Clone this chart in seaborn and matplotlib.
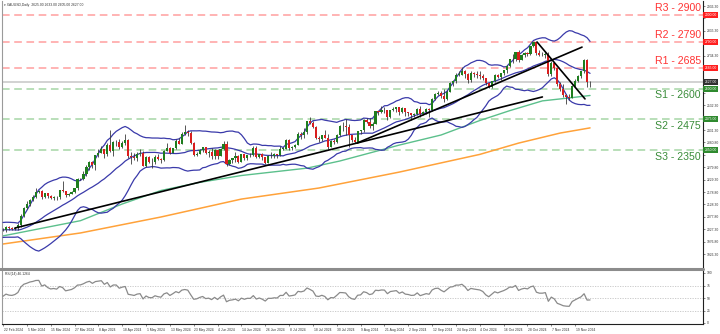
import numpy as np
import pandas as pd
import matplotlib
matplotlib.use("Agg")
import matplotlib.pyplot as plt
import matplotlib.transforms as mtrans
from matplotlib.lines import Line2D
import seaborn as sns

sns.set_theme(style="white")
plt.rcParams['font.family'] = ['Liberation Sans', 'DejaVu Sans']

# ---------------- data ----------------
pre_closes = [2053, 2067, 2077, 2065, 2063, 2058, 2042, 2043, 2045, 2027, 2030, 2024, 2029, 2049,
              2055, 2028, 2006, 2023, 2029, 2021, 2029, 2014, 2021, 2018, 2033, 2037, 2039, 2054,
              2039, 2025, 2035, 2035, 2034, 2024, 2020, 1992, 1992, 2004, 2013, 2017, 2025, 2026]

opens = [2026, 2024, 2035, 2031, 2030, 2034, 2044, 2083, 2114, 2128,
         2148, 2159, 2179, 2182, 2158, 2175, 2162, 2155, 2160, 2157,
         2186, 2181, 2165, 2172, 2178, 2195, 2230, 2233, 2251, 2280,
         2300, 2290, 2329, 2339, 2352, 2333, 2372, 2344, 2383, 2383,
         2361, 2379, 2391, 2327, 2322, 2316, 2332, 2337, 2286, 2320,
         2303, 2301, 2323, 2314, 2309, 2346, 2360, 2336, 2358, 2386,
         2376, 2415, 2425, 2420, 2379, 2329, 2334, 2350, 2361, 2338,
         2343, 2327, 2350, 2327, 2355, 2376, 2294, 2311, 2316, 2324,
         2303, 2333, 2319, 2330, 2329, 2360, 2322, 2334, 2320, 2298,
         2327, 2326, 2332, 2330, 2356, 2356, 2392, 2359, 2364, 2371,
         2415, 2411, 2422, 2469, 2458, 2445, 2400, 2396, 2409, 2398,
         2364, 2387, 2384, 2411, 2447, 2446, 2443, 2410, 2390, 2383,
         2427, 2431, 2472, 2465, 2447, 2456, 2507, 2504, 2513, 2512,
         2484, 2512, 2518, 2524, 2504, 2520, 2503, 2500, 2493, 2495,
         2517, 2497, 2506, 2516, 2512, 2558, 2578, 2582, 2569, 2559,
         2587, 2622, 2629, 2657, 2657, 2672, 2658, 2634, 2663, 2659,
         2656, 2653, 2644, 2622, 2608, 2631, 2657, 2649, 2662, 2674,
         2692, 2721, 2720, 2748, 2716, 2736, 2747, 2743, 2774, 2788,
         2744, 2736, 2736, 2742, 2659, 2706, 2684, 2618, 2598, 2573,
         2565, 2562, 2612, 2631, 2651, 2670, 2715, 2625]

highs = [2034, 2041, 2041, 2037, 2038, 2052, 2088, 2119, 2141, 2152,
         2165, 2195, 2189, 2185, 2176, 2175, 2165, 2163, 2163, 2188,
         2223, 2183, 2176, 2183, 2196, 2235, 2236, 2265, 2288, 2305,
         2305, 2331, 2354, 2365, 2354, 2378, 2431, 2385, 2392, 2395,
         2385, 2417, 2396, 2341, 2338, 2340, 2352, 2346, 2326, 2327,
         2319, 2331, 2332, 2318, 2350, 2378, 2364, 2360, 2393, 2398,
         2422, 2450, 2430, 2426, 2384, 2340, 2352, 2364, 2363, 2351,
         2360, 2354, 2353, 2360, 2388, 2388, 2313, 2318, 2342, 2328,
         2333, 2334, 2331, 2336, 2365, 2368, 2335, 2336, 2322, 2331,
         2340, 2339, 2335, 2365, 2364, 2393, 2393, 2367, 2376, 2425,
         2425, 2440, 2469, 2483, 2470, 2448, 2408, 2413, 2431, 2416,
         2390, 2393, 2415, 2451, 2462, 2477, 2456, 2413, 2402, 2429,
         2433, 2475, 2479, 2479, 2463, 2509, 2510, 2531, 2525, 2513,
         2513, 2527, 2527, 2525, 2524, 2523, 2505, 2502, 2502, 2523,
         2529, 2507, 2519, 2520, 2560, 2582, 2590, 2589, 2600, 2595,
         2625, 2634, 2664, 2670, 2686, 2675, 2665, 2673, 2666, 2670,
         2671, 2660, 2645, 2624, 2633, 2660, 2660, 2665, 2675, 2696,
         2722, 2740, 2749, 2758, 2741, 2748, 2749, 2774, 2790, 2790,
         2759, 2749, 2750, 2750, 2711, 2709, 2685, 2625, 2618, 2576,
         2577, 2615, 2639, 2656, 2673, 2721, 2721, 2633]

lows = [2020, 2017, 2025, 2025, 2024, 2026, 2038, 2079, 2111, 2123,
        2141, 2155, 2176, 2150, 2155, 2154, 2150, 2146, 2146, 2151,
        2180, 2158, 2163, 2169, 2174, 2188, 2228, 2228, 2246, 2268,
        2278, 2268, 2320, 2337, 2319, 2326, 2342, 2325, 2365, 2355,
        2358, 2370, 2318, 2292, 2311, 2305, 2325, 2285, 2280, 2297,
        2277, 2291, 2308, 2297, 2306, 2345, 2333, 2336, 2355, 2373,
        2376, 2412, 2406, 2374, 2326, 2325, 2333, 2341, 2334, 2323,
        2315, 2314, 2315, 2325, 2350, 2286, 2287, 2297, 2301, 2295,
        2301, 2310, 2310, 2320, 2327, 2316, 2319, 2310, 2294, 2297,
        2318, 2318, 2316, 2327, 2350, 2353, 2351, 2350, 2358, 2369,
        2395, 2400, 2416, 2455, 2441, 2393, 2384, 2386, 2397, 2353,
        2364, 2376, 2380, 2407, 2428, 2410, 2364, 2383, 2379, 2381,
        2416, 2425, 2460, 2441, 2431, 2455, 2491, 2499, 2502, 2471,
        2480, 2507, 2506, 2493, 2499, 2490, 2489, 2472, 2485, 2491,
        2485, 2493, 2497, 2485, 2508, 2553, 2574, 2563, 2546, 2555,
        2585, 2612, 2624, 2651, 2655, 2644, 2624, 2625, 2647, 2643,
        2641, 2637, 2614, 2604, 2603, 2628, 2643, 2637, 2656, 2665,
        2690, 2704, 2714, 2708, 2715, 2729, 2732, 2737, 2770, 2735,
        2733, 2731, 2726, 2652, 2653, 2677, 2610, 2590, 2566, 2537,
        2555, 2560, 2605, 2626, 2645, 2664, 2605, 2605]

closes = [2024, 2035, 2031, 2030, 2034, 2044, 2083, 2114, 2128, 2148,
          2159, 2179, 2182, 2158, 2175, 2162, 2155, 2160, 2157, 2186,
          2181, 2165, 2172, 2178, 2195, 2230, 2233, 2251, 2280, 2300,
          2290, 2329, 2339, 2352, 2333, 2372, 2344, 2383, 2383, 2361,
          2379, 2391, 2327, 2322, 2316, 2332, 2337, 2286, 2320, 2303,
          2301, 2323, 2314, 2309, 2346, 2360, 2336, 2358, 2386, 2376,
          2415, 2425, 2420, 2379, 2329, 2334, 2350, 2361, 2338, 2343,
          2327, 2350, 2327, 2355, 2376, 2294, 2311, 2316, 2324, 2303,
          2333, 2319, 2330, 2329, 2360, 2322, 2334, 2320, 2298, 2327,
          2326, 2332, 2330, 2356, 2356, 2392, 2359, 2364, 2371, 2415,
          2411, 2422, 2469, 2458, 2445, 2400, 2396, 2409, 2398, 2364,
          2387, 2384, 2411, 2447, 2446, 2443, 2410, 2390, 2383, 2427,
          2431, 2472, 2465, 2447, 2456, 2507, 2504, 2513, 2512, 2484,
          2512, 2518, 2524, 2504, 2520, 2503, 2500, 2493, 2495, 2517,
          2497, 2506, 2516, 2512, 2558, 2578, 2582, 2569, 2559, 2587,
          2622, 2629, 2657, 2657, 2672, 2658, 2634, 2663, 2659, 2656,
          2653, 2644, 2622, 2608, 2631, 2657, 2649, 2662, 2674, 2692,
          2721, 2720, 2748, 2716, 2736, 2747, 2743, 2774, 2788, 2744,
          2736, 2736, 2742, 2659, 2706, 2684, 2618, 2598, 2573, 2565,
          2562, 2612, 2631, 2651, 2670, 2715, 2625, 2627]

date_labels = ["22 Feb 2024", "5 Mar 2024", "15 Mar 2024", "27 Mar 2024", "8 Apr 2024",
               "18 Apr 2024", "1 May 2024", "13 May 2024", "23 May 2024", "4 Jun 2024",
               "14 Jun 2024", "26 Jun 2024", "8 Jul 2024", "18 Jul 2024", "30 Jul 2024",
               "9 Aug 2024", "21 Aug 2024", "2 Sep 2024", "12 Sep 2024", "24 Sep 2024",
               "4 Oct 2024", "16 Oct 2024", "28 Oct 2024", "7 Nov 2024", "19 Nov 2024"]

# moving averages (bar index, price)
ma100_idx = [0, 26, 40, 53, 66, 80, 102, 113, 133, 147, 160, 170, 181, 190, 197]
ma100_val = [2000, 2062, 2130, 2185, 2218, 2246, 2276, 2305, 2370, 2411, 2470, 2510, 2550, 2562, 2572]
ma200_idx = [0, 26, 53, 80, 106, 133, 160, 173, 187, 197]
ma200_val = [1967, 2012, 2077, 2150, 2195, 2260, 2332, 2378, 2419, 2440]

# trend lines (bar index, price)
trend_a = [(4, 2032), (181, 2566)]
trend_b = [(118.8, 2378), (194.3, 2769)]
trend_c = [(179.2, 2790), (195.3, 2558)]

levels = [2900, 2790, 2685, 2600, 2475, 2350]
level_names = ["R3", "R2", "R1", "S1", "S2", "S3"]
rsi_levels = [75, 50, 25]

# ---------------- indicators ----------------
n = len(closes)
idx = np.arange(n)
allc = pd.Series(pre_closes + closes, dtype=float)
mid = allc.rolling(20).mean()
sd = allc.rolling(20).std(ddof=0)
bb_mid = mid.values[-n:]
bb_up = (mid + 2 * sd).values[-n:]
bb_lo = (mid - 2 * sd).values[-n:]
delta = allc.diff()
gain = delta.clip(lower=0)
loss = -delta.clip(upper=0)
ag = gain.ewm(alpha=1 / 14, adjust=False).mean()
al = loss.ewm(alpha=1 / 14, adjust=False).mean()
rsi = (100 - 100 / (1 + ag / al)).values[-n:]

# ---------------- layout ----------------
W, H = 720, 334
XR = 703  # right axis position in pixels
fig = plt.figure(figsize=(7.2, 3.34), dpi=100)
fig.patch.set_facecolor("white")

def fr(x0, y0, x1, y1):
    return [x0 / W, 1 - y1 / H, (x1 - x0) / W, (y1 - y0) / H]

def price_at(y):
    return 1926.3 + (254 - y) / 0.2455

ax = fig.add_axes(fr(2, 1, XR, 268))
axr = fig.add_axes(fr(2, 270, XR, 324), sharex=ax)
xlo, xhi = (2 - 3) / 2.98, (XR - 3) / 2.98
ax.set_xlim(xlo, xhi)
ax.set_ylim(price_at(268), price_at(1))
axr.set_ylim(-2, 106)

for a in (ax, axr):
    a.set_facecolor("white")
    a.grid(False)
    for s in a.spines.values():
        s.set_linewidth(0.8)
    a.spines["left"].set_color("#9a9a9a")
    a.spines["right"].set_color("#202020")
    a.spines["top"].set_visible(False)
ax.spines["bottom"].set_visible(False)
axr.spines["bottom"].set_color("#202020")

SMALL = 2.4

# levels
red_line, green_line = "#ff9f9f", "#a6d6a6"
red_txt, green_txt = "#ff3333", "#3a8c3a"
box_prices = []
for lv, nm in zip(levels, level_names):
    is_r = nm.startswith("R")
    ax.axhline(lv, color=red_line if is_r else green_line, lw=1.1, dashes=(5, 3), zorder=1)
    ax.annotate(f"{nm} - {lv}", xy=(0.997, lv), xycoords=ax.get_yaxis_transform(),
                xytext=(0, 1.2 if is_r else -1.2), textcoords="offset points",
                ha="right", va="bottom" if is_r else "top", fontsize=7.6,
                color=red_txt if is_r else green_txt, zorder=6)
    ax.text(1.002, lv, f"{lv:.2f}", transform=ax.get_yaxis_transform(), ha="left", va="center",
            fontsize=SMALL, color="white", zorder=7, clip_on=False,
            bbox=dict(boxstyle="square,pad=0.3", fc="#ff1f1f" if is_r else "#2f8a2f", ec="none"))
    box_prices.append(lv)

# current price line
last = closes[-1]
ax.axhline(last, color="#cfcfcf", lw=1.3, zorder=1)
ax.text(1.002, last, f"{last:.2f}", transform=ax.get_yaxis_transform(), ha="left", va="center",
        fontsize=SMALL, color="white", zorder=7, clip_on=False,
        bbox=dict(boxstyle="square,pad=0.3", fc="#303030", ec="none"))
box_prices.append(last)

# moving averages and bands
sns.lineplot(x=ma200_idx, y=ma200_val, ax=ax, color="#ffa23a", lw=1.1, zorder=2)
sns.lineplot(x=ma100_idx, y=ma100_val, ax=ax, color="#5cc08c", lw=1.0, zorder=2)
for band in (bb_up, bb_mid, bb_lo):
    sns.lineplot(x=idx, y=band, ax=ax, color="#3a3aaa", lw=0.9, zorder=3)

# candles
o = np.array(opens, float); c = np.array(closes, float)
hi = np.array(highs, float); lo = np.array(lows, float)
up = c >= o
ax.vlines(idx, lo, hi, color="#3a3a3a", lw=0.6, zorder=4)
body = np.maximum(np.abs(c - o), 1.5)
ax.bar(idx, body, bottom=np.minimum(o, c), width=0.72,
       color=np.where(up, "#1e7d1e", "#d91e1e"), linewidth=0, zorder=5)

# trend lines
for tl in (trend_a, trend_b, trend_c):
    ax.plot([tl[0][0], tl[1][0]], [tl[0][1], tl[1][1]], color="black", lw=1.2, zorder=6)

# price axis ticks (labels hidden where a level box sits)
pticks = [1926.3 + 50.5 * k for k in range(21)]
ax.yaxis.tick_right()
ax.set_yticks(pticks)
ax.set_yticklabels(["" if min(abs(p - b) for b in box_prices) < 22 else f"{p:.2f}" for p in pticks])
ax.tick_params(axis="y", right=True, length=1.5, width=0.5, pad=1.2, labelsize=SMALL,
               labelcolor="#333333", color="#555555")
ax.tick_params(axis="x", bottom=False, labelbottom=False)
ax.set_xlabel(""); ax.set_ylabel("")

# RSI
for rl in rsi_levels:
    axr.axhline(rl, color="#c4c4c4", lw=0.6, ls=(0, (1.5, 1.5)), zorder=1)
sns.lineplot(x=idx, y=rsi, ax=axr, color="#8a8a8a", lw=0.9, zorder=3)
axr.yaxis.tick_right()
axr.set_yticks([0, 25, 50, 75, 100])
axr.set_yticklabels(["0", "25", "50", "75", "100"])
axr.tick_params(axis="y", right=True, length=1.5, width=0.5, pad=1.2, labelsize=SMALL,
                labelcolor="#333333", color="#555555")
axr.set_xticks(idx[::8][:len(date_labels)])
axr.set_xticklabels(date_labels, ha="left")
axr.tick_params(axis="x", bottom=True, length=1.5, width=0.5, pad=1.5, labelsize=SMALL,
                labelcolor="#333333", color="#555555")
for t in axr.get_xticklabels():
    t.set_transform(t.get_transform() + mtrans.ScaledTranslation(0.5 / 72, 0, fig.dpi_scale_trans))
axr.set_xlabel(""); axr.set_ylabel("")
axr.text(0.004, 0.96, f"RSI(14) {rsi[-1]:.4f}", transform=axr.transAxes, ha="left", va="top",
         fontsize=SMALL, color="#333333")

# title
ax.text(0.003, 0.994, f"\u25be XAUUSD,Daily  {opens[-1]:.2f} {highs[-1]:.2f} {lows[-1]:.2f} {closes[-1]:.2f}",
        transform=ax.transAxes, ha="left", va="top", fontsize=SMALL, color="#333333",
        family=["Liberation Sans", "DejaVu Sans"])

# pane separator
fig.add_artist(Line2D([0, XR / W], [1 - 269 / H] * 2, color="#8c8c8c", lw=2.2))

fig.savefig("out.png", dpi=100, facecolor="white")
